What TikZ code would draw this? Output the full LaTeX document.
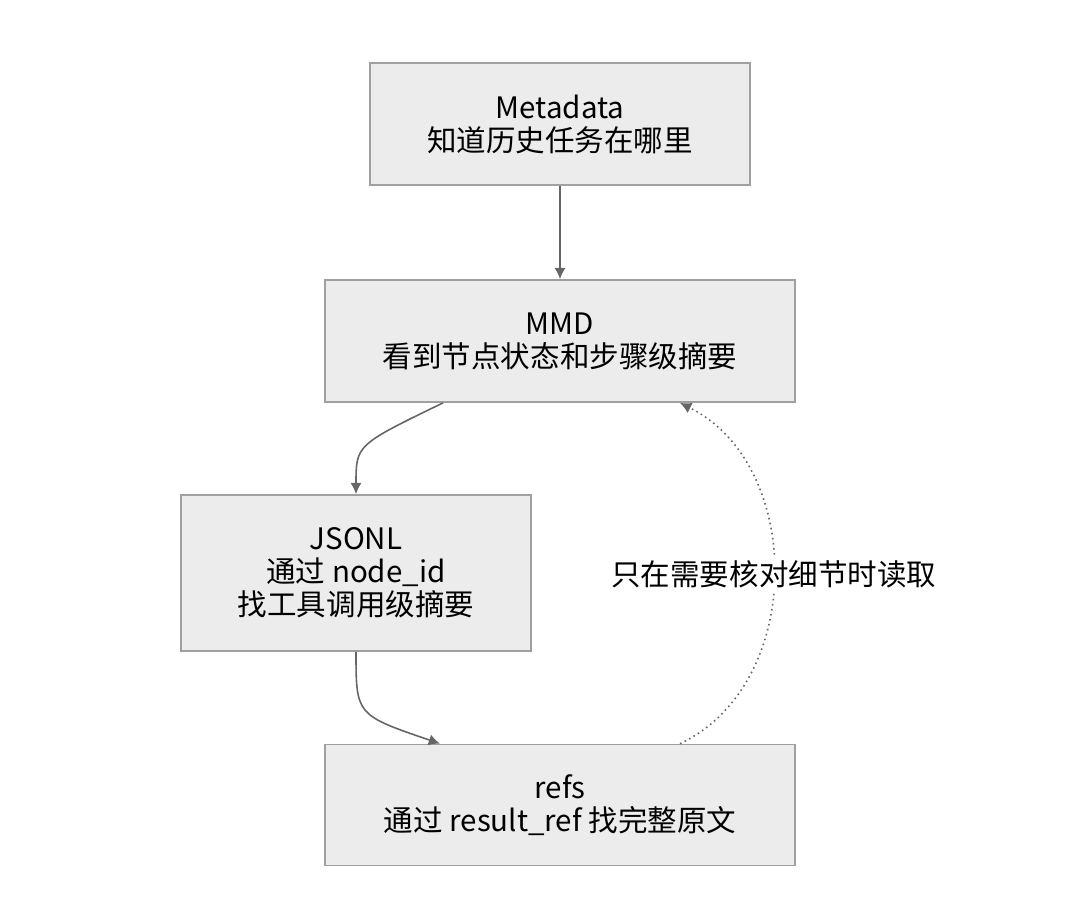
\documentclass[tikz,border=0pt]{standalone}
\usepackage{fontspec}
\setmainfont{Noto Sans CJK SC}
\usetikzlibrary{positioning,arrows.meta}
\definecolor{boxfill}{HTML}{ECECEC}
\definecolor{boxline}{HTML}{A0A0A0}
\definecolor{arrowgray}{HTML}{666666}
\tikzset{
  stage/.style={draw=boxline, fill=boxfill, line width=0.5pt, align=center,
    inner sep=0pt, font=\fontsize{8.4}{9.4}\selectfont},
  flow/.style={draw=arrowgray, line width=0.45pt, -{Latex[length=3.2pt,width=3.2pt]}},
  lookup/.style={flow, densely dotted}
}
\begin{document}
\begin{tikzpicture}
  \useasboundingbox (0,0) rectangle (10.80,9.05);
  \node[stage, minimum width=3.80cm, minimum height=1.22cm] (meta) at (5.60,7.81) {Metadata\\知道历史任务在哪里};
  \node[stage, minimum width=4.70cm, minimum height=1.22cm] (mmd) at (5.60,5.64) {MMD\\看到节点状态和步骤级摘要};
  \node[stage, minimum width=3.50cm, minimum height=1.56cm] (jsonl) at (3.56,3.32) {JSONL\\通过 node\_id\\找工具调用级摘要};
  \node[stage, minimum width=4.70cm, minimum height=1.21cm] (refs) at (5.60,1.00) {refs\\通过 result\_ref 找完整原文};
  % connectors
  \draw[flow] (meta.south) -- (mmd.north);
  \draw[flow] ([xshift=-1.17cm]mmd.south) .. controls (3.56,4.60) .. (jsonl.north);
  \draw[flow] (jsonl.south) .. controls (3.56,1.90) .. ([xshift=-1.20cm]refs.north);
  \draw[lookup] ([xshift=1.20cm]refs.north) .. controls (8.05,2.20) and (8.05,4.40) .. ([xshift=1.20cm]mmd.south)
    node[pos=0.5, fill=white, inner sep=1pt, font=\fontsize{8.4}{9.4}\selectfont] (hint) {只在需要核对细节时读取};
\end{tikzpicture}
\end{document}
